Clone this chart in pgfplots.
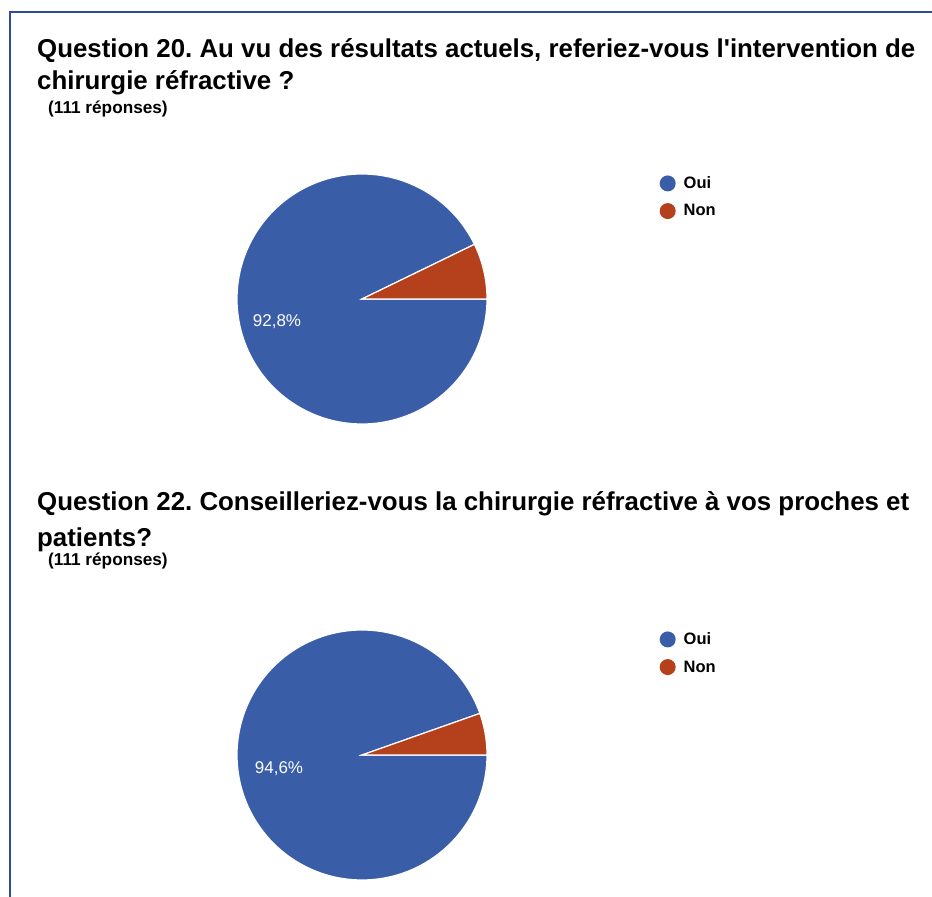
\documentclass[border=0pt]{standalone}
\usepackage{pgfplots}
\pgfplotsset{compat=1.18}
\usepackage{fontspec}
\setmainfont{Liberation Sans}
\frenchspacing
\definecolor{pieblue}{HTML}{3A5DA8}
\definecolor{piered}{HTML}{B5401C}
\definecolor{framecol}{HTML}{2F4C9C}
% data (percent)
\def\qAoui{92.8}\def\qAnon{7.2}
\def\qBoui{94.6}\def\qBnon{5.4}
\pgfmathsetmacro{\angA}{3.6*\qAnon}
\pgfmathsetmacro{\angB}{3.6*\qBnon}
\pgfplotsset{
  pie/.style={width=250pt, height=250pt, scale only axis, anchor=origin,
    xmin=-1, xmax=1, ymin=-1, ymax=1, hide axis, clip=false,
    legend image code/.code={\fill[##1, draw=none] (0.2cm,0) circle (8pt);},
    legend style={at={(1.69,0.998)}, anchor=north west, draw=none, fill=none,
      font=\bfseries\fontsize{16.5}{19}\selectfont, row sep=10.5pt, inner sep=0pt,
      /tikz/every odd column/.append style={column sep=6pt}},
    legend cell align=left},
}
\begin{document}
\begin{tikzpicture}[x=1pt,y=1pt]
\path[use as bounding box] (0,0) rectangle (932,897);
\draw[framecol, line width=2.2pt] (10,0) -- (10,885) -- (932,885);
\node[anchor=base west, inner sep=0, font=\bfseries\fontsize{25.85}{30}\selectfont] at (37,839) {Question 20. Au vu des résultats actuels, referiez-vous l\textquotesingle intervention de};
\node[anchor=base west, inner sep=0, font=\bfseries\fontsize{25.85}{30}\selectfont] at (37,807) {chirurgie réfractive ?};
\node[anchor=base west, inner sep=0, font=\bfseries\fontsize{17.2}{19}\selectfont] at (48,783) {(111 réponses)};
\node[anchor=base west, inner sep=0, font=\bfseries\fontsize{25.85}{30}\selectfont] at (37,386) {Question 22. Conseilleriez-vous la chirurgie réfractive à vos proches et};
\node[anchor=base west, inner sep=0, font=\bfseries\fontsize{25.85}{30}\selectfont] at (37,350) {patients?};
\node[anchor=base west, inner sep=0, font=\bfseries\fontsize{17.2}{19}\selectfont] at (48,331) {(111 réponses)};
\begin{axis}[pie, at={(362pt,598pt)}]
\addplot[fill=pieblue, draw=white, line width=1.2pt, domain=\angA:360, samples=150] ({cos(x)},{sin(x)}) -- (axis cs:0,0) -- cycle;
\addlegendentry{Oui}
\addplot[fill=piered, draw=white, line width=1.2pt, domain=0:\angA, samples=30] ({cos(x)},{sin(x)}) -- (axis cs:0,0) -- cycle;
\addlegendentry{Non}
\node[white, font=\fontsize{17}{19}\selectfont] at (axis cs:-0.68,-0.184) {92,8\%};
\end{axis}
\begin{axis}[pie, at={(362pt,142pt)}]
\addplot[fill=pieblue, draw=white, line width=1.2pt, domain=\angB:360, samples=150] ({cos(x)},{sin(x)}) -- (axis cs:0,0) -- cycle;
\addlegendentry{Oui}
\addplot[fill=piered, draw=white, line width=1.2pt, domain=0:\angB, samples=30] ({cos(x)},{sin(x)}) -- (axis cs:0,0) -- cycle;
\addlegendentry{Non}
\node[white, font=\fontsize{17}{19}\selectfont] at (axis cs:-0.664,-0.112) {94,6\%};
\end{axis}
\end{tikzpicture}
\end{document}
